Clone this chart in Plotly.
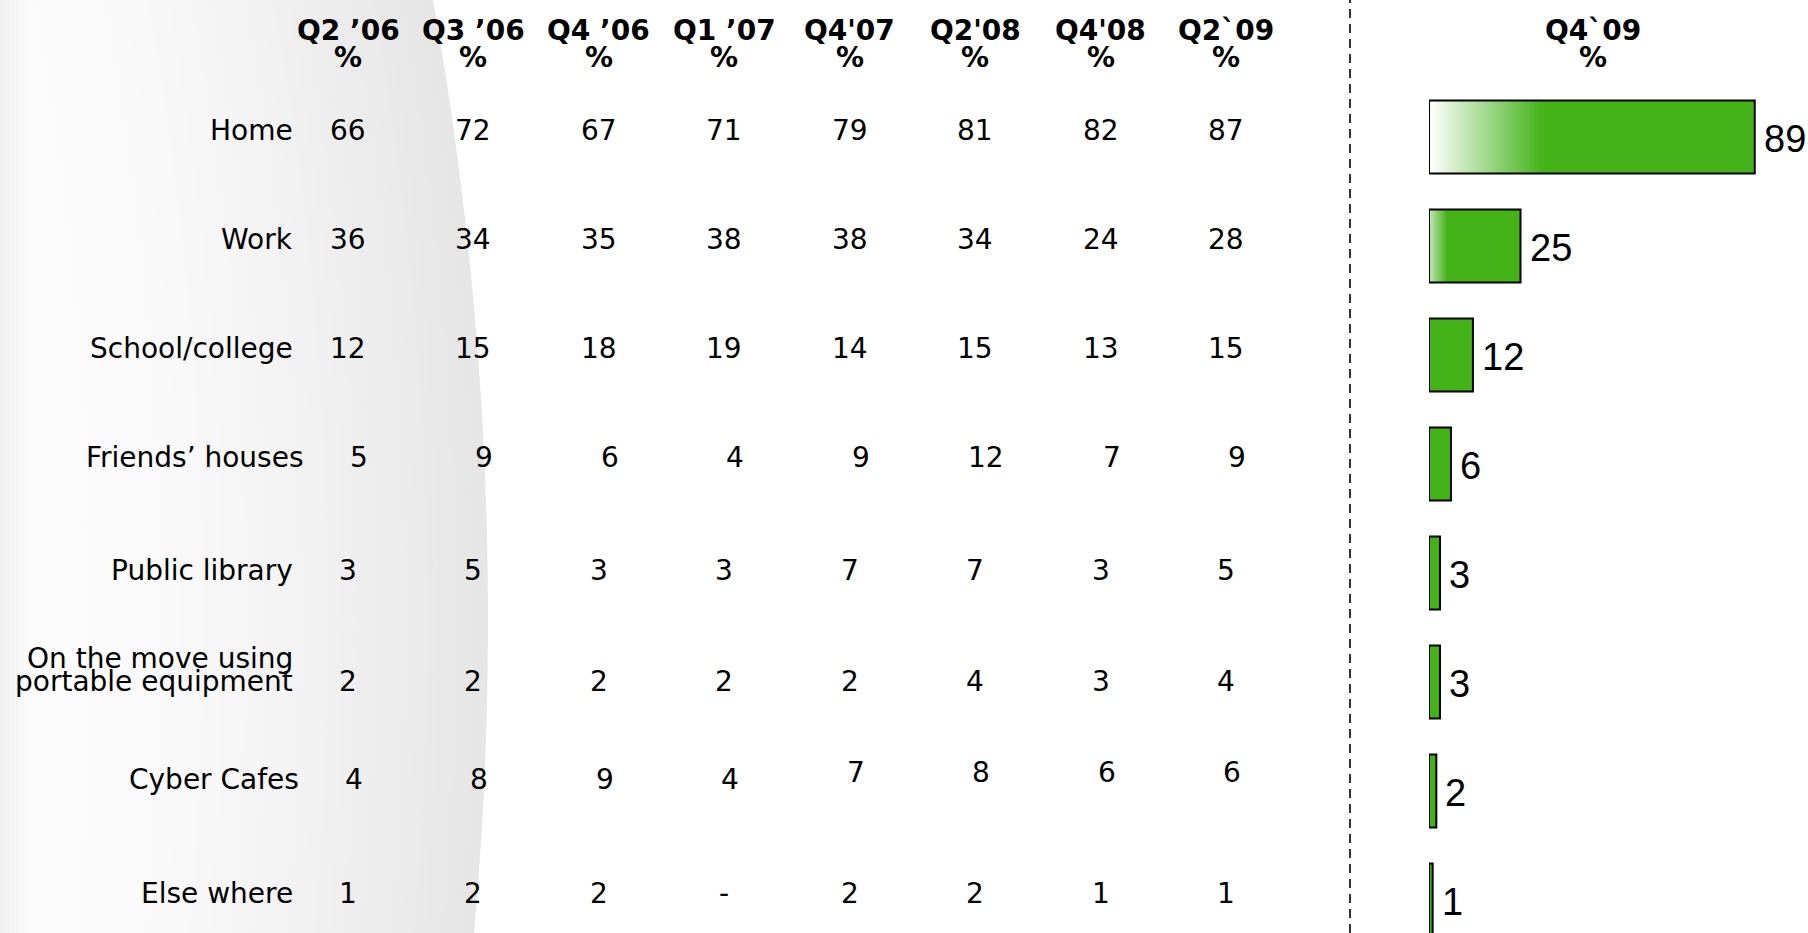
import numpy as np
import plotly.graph_objects as go

# ---- data -------------------------------------------------------------
quarters = ["Q2 ’06", "Q3 ’06", "Q4 ’06", "Q1 ’07", "Q4'07", "Q2'08", "Q4'08", "Q2`09"]
latest_quarter = "Q4`09"
locations = [
    "Home",
    "Work",
    "School/college",
    "Friends’ houses",
    "Public library",
    "On the move using<br>portable equipment",
    "Cyber Cafes",
    "Else where",
]

home = [66, 72, 67, 71, 79, 81, 82, 87]
work = [36, 34, 35, 38, 38, 34, 24, 28]
school_college = [12, 15, 18, 19, 14, 15, 13, 15]
friends_houses = [5, 9, 6, 4, 9, 12, 7, 9]
public_library = [3, 5, 3, 3, 7, 7, 3, 5]
on_the_move = [2, 2, 2, 2, 2, 4, 3, 4]
cyber_cafes = [4, 8, 9, 4, 7, 8, 6, 6]
else_where = [1, 2, 2, None, 2, 2, 1, 1]

latest = [89, 25, 12, 6, 3, 3, 2, 1]

table_rows = [home, work, school_college, friends_houses, public_library,
              on_the_move, cyber_cafes, else_where]

# ---- layout constants (pixels) ------------------------------------------
W, H = 1808, 933
COL0, COL_STEP = 348, 125.43
ROW0, ROW_STEP = 130, 109
BAR_ROW0 = 137
BAR_X0, PX_PER_UNIT = 1429, 3.66
DIVIDER_X = 1350
LABEL_RIGHT = 295
GREEN = "#44b318"
TEXT_FONT = dict(family="DejaVu Sans, Verdana, sans-serif", size=28, color="#000")
HEAD_FONT = dict(family="DejaVu Sans, Verdana, sans-serif", size=28, color="#000", weight="bold")
BAR_FONT = dict(family="Liberation Sans, Arial, sans-serif", size=38, color="#000")

# per-row nudges (dx right, dy down) in pixels
row_nudge = {"Friends’ houses": (11, 0), "Public library": (0, 4), "Cyber Cafes": (6, -5),
             "On the move using<br>portable equipment": (0, 6)}
# per-cell vertical nudges (down, pixels)
cell_nudge = {("Cyber Cafes", "Q4'07"): -7, ("Cyber Cafes", "Q2'08"): -7,
              ("Cyber Cafes", "Q4'08"): -7, ("Cyber Cafes", "Q2`09"): -7}
# faded left end of the first bars, in value units
fade_units = {"Home": 31, "Work": 5}


def px(x):
    return x / W


def py(y):
    return 1 - y / H


fig = go.Figure()

# invisible anchor so both category axes know their categories
fig.add_trace(go.Scatter(x=quarters, y=locations, mode="markers",
                         marker=dict(opacity=0), hoverinfo="skip", showlegend=False))

# ---- latest-quarter bars ----------------------------------------------
BAR_W = 0.67
fig.add_trace(go.Bar(x=latest, y=locations, orientation="h", width=BAR_W,
                     marker=dict(color=GREEN, line=dict(width=0)),
                     xaxis="x2", yaxis="y2", showlegend=False, hoverinfo="skip"))

seg_x, seg_base, seg_y, seg_col = [], [], [], []
white = np.array([255, 255, 255])
green = np.array([0x44, 0xB3, 0x18])
for loc, val in zip(locations, latest):
    g = fade_units.get(loc, 0)
    if not g:
        continue
    n = 60
    start_t = 0.0 if g > 10 else 0.3
    for k in range(n):
        t = start_t + (1 - start_t) * (k / n)
        c = (white * (1 - t) + green * t).astype(int)
        # each step runs to the end of the fade, the next one covers its tail
        seg_base.append(g * k / n)
        seg_x.append(g * (1 - k / n))
        seg_y.append(loc)
        seg_col.append(f"rgb({c[0]},{c[1]},{c[2]})")
fig.add_trace(go.Bar(x=seg_x, base=seg_base, y=seg_y, orientation="h", width=BAR_W,
                     marker=dict(color=seg_col, line=dict(width=0)),
                     xaxis="x2", yaxis="y2", showlegend=False, hoverinfo="skip"))

fig.add_trace(go.Bar(x=latest, y=locations, orientation="h", width=BAR_W,
                     marker=dict(color="rgba(0,0,0,0)", line=dict(width=2, color="#000")),
                     xaxis="x2", yaxis="y2", showlegend=False, hoverinfo="skip"))

annotations = []

# bar value labels
for loc, val in zip(locations, latest):
    annotations.append(dict(x=val, y=loc, xref="x2", yref="y2", text=str(val),
                            xanchor="left", yanchor="middle", xshift=7, yshift=-2,
                            showarrow=False, font=BAR_FONT))

# table values and row labels
for loc, row in zip(locations, table_rows):
    dx, dy = row_nudge.get(loc, (0, 0))
    for q, v in zip(quarters, row):
        cdy = dy + cell_nudge.get((loc, q), 0)
        annotations.append(dict(x=q, y=loc, xref="x", yref="y",
                                text="-" if v is None else str(v),
                                xanchor="center", yanchor="middle",
                                xshift=dx, yshift=-cdy, showarrow=False, font=TEXT_FONT))
    lines = loc.split("<br>")
    for i, line in enumerate(lines):
        up = (len(lines) - 1 - i) * 23
        annotations.append(dict(x=px(LABEL_RIGHT + dx), y=loc, xref="paper", yref="y",
                                text=line, xanchor="right", yanchor="middle",
                                yshift=-dy + up, showarrow=False, font=TEXT_FONT))

# column headers
HEAD_Y, PCT_Y = 30, 57
for q in quarters:
    annotations.append(dict(x=q, y=py(HEAD_Y), xref="x", yref="paper", text=q,
                            xanchor="center", yanchor="middle", showarrow=False, font=HEAD_FONT))
    annotations.append(dict(x=q, y=py(PCT_Y), xref="x", yref="paper", text="%",
                            xanchor="center", yanchor="middle", showarrow=False, font=HEAD_FONT))
annotations.append(dict(x=px(1593), y=py(HEAD_Y), xref="paper", yref="paper", text=latest_quarter,
                        xanchor="center", yanchor="middle", showarrow=False, font=HEAD_FONT))
annotations.append(dict(x=px(1593), y=py(PCT_Y), xref="paper", yref="paper", text="%",
                        xanchor="center", yanchor="middle", showarrow=False, font=HEAD_FONT))

# ---- background: shaded curved panel on the left --------------------------
shapes = []
R, CY, XMAX = 3522.0, 620.0, 488.0
CX = XMAX - R
ys = np.linspace(0, H, 40)
edge = CX + np.sqrt(R ** 2 - (ys - CY) ** 2)
d_steps = np.arange(0, 424, 5)
grey = np.interp(d_steps, [0, 40, 90, 150, 210, 270, 340, 420],
                 [230, 232, 236, 240, 244, 247, 250, 252])
for d, g in zip(d_steps, grey):
    pts = [f"{px(0):.5f},{py(0):.5f}"]
    pts += [f"{px(e - d):.5f},{py(y):.5f}" for e, y in zip(edge, ys)]
    pts += [f"{px(0):.5f},{py(H):.5f}"]
    path = "M " + " L ".join(pts) + " Z"
    gi = int(round(g))
    shapes.append(dict(type="path", path=path, xref="paper", yref="paper", layer="below",
                       fillcolor=f"rgb({gi},{gi},{gi})", line=dict(width=0)))
for i in range(6):
    shapes.append(dict(type="rect", xref="paper", yref="paper", layer="below",
                       x0=0, x1=px(4 + 5 * i), y0=0, y1=1,
                       fillcolor="rgba(0,0,0,0.007)", line=dict(width=0)))

# dashed divider
shapes.append(dict(type="line", xref="paper", yref="paper", x0=px(DIVIDER_X), x1=px(DIVIDER_X),
                   y0=0, y1=1, line=dict(color="#333", width=2, dash="9px,6px")))

hidden = dict(visible=False, showgrid=False, zeroline=False, fixedrange=True)
fig.update_layout(
    width=W, height=H,
    margin=dict(l=0, r=0, t=0, b=0),
    paper_bgcolor="#fff", plot_bgcolor="rgba(0,0,0,0)",
    barmode="overlay", showlegend=False,
    xaxis=dict(type="category", domain=[0, 1],
               range=[-COL0 / COL_STEP, (W - COL0) / COL_STEP], **hidden),
    yaxis=dict(type="category", domain=[0, 1],
               range=[(H - ROW0) / ROW_STEP, -ROW0 / ROW_STEP], **hidden),
    xaxis2=dict(domain=[BAR_X0 / W, 1], range=[0, (W - BAR_X0) / PX_PER_UNIT],
                anchor="y2", **hidden),
    yaxis2=dict(type="category", domain=[0, 1], anchor="x2",
                range=[(H - BAR_ROW0) / ROW_STEP, -BAR_ROW0 / ROW_STEP], **hidden),
    annotations=annotations,
    shapes=shapes,
)

fig.write_html("out.html")
